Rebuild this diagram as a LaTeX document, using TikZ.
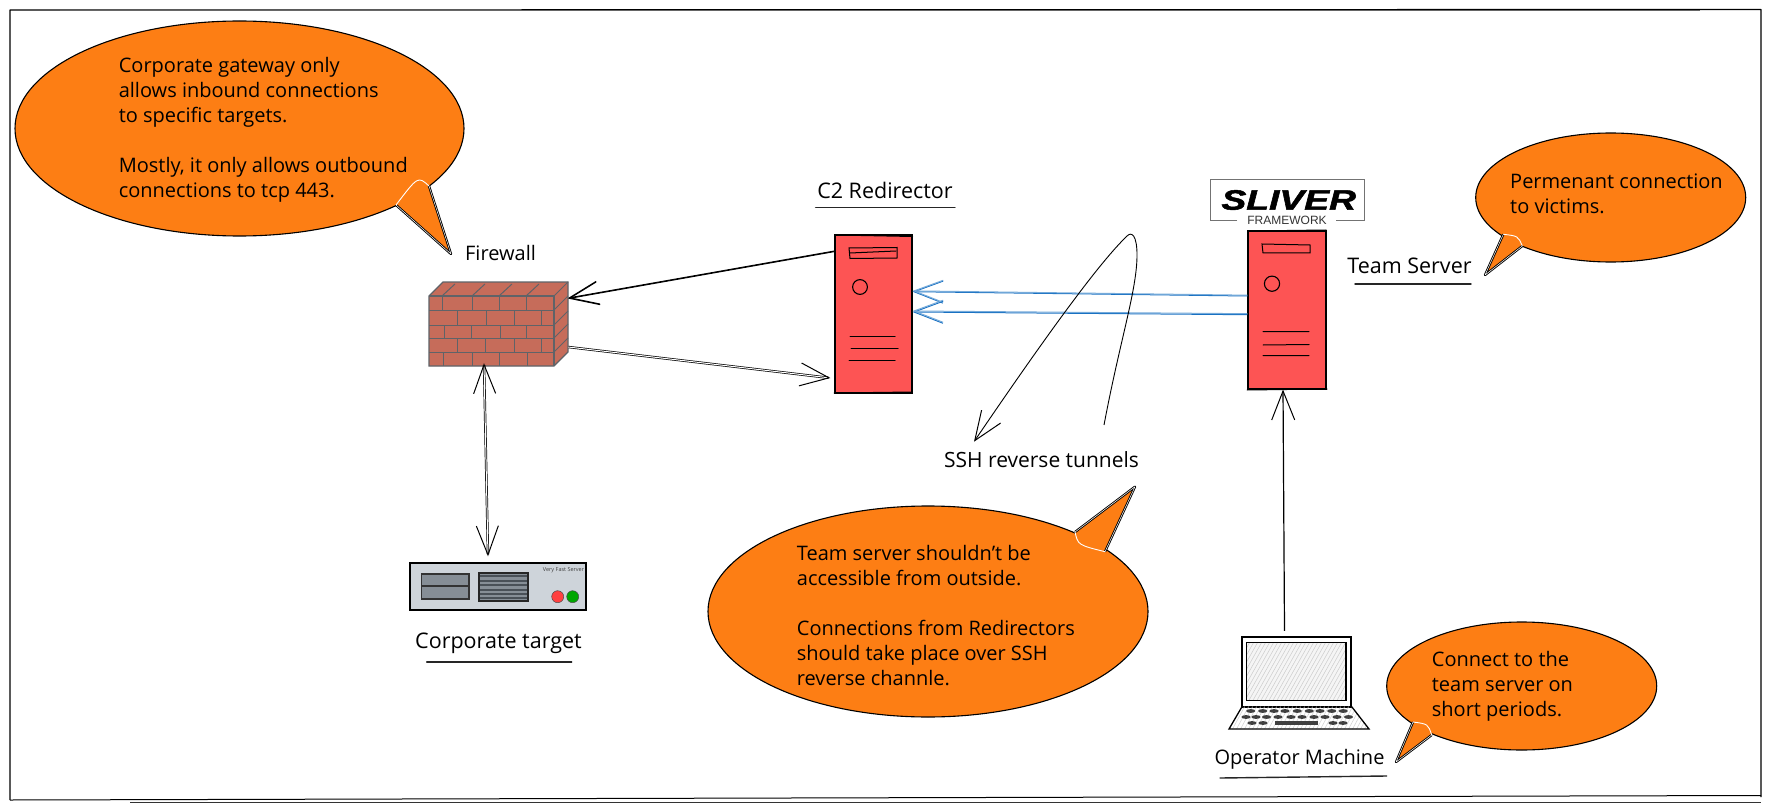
\documentclass[tikz,border=0pt]{standalone}
\usepackage{fontspec}
\setmainfont{Open Sans}
\newfontfamily\logofont{Liberation Sans}
\newfontfamily\logoheavy[UprightFont=* Bold Italic,FakeBold=1.6]{Liberation Sans}
\usetikzlibrary{arrows.meta,shapes.geometric}
\definecolor{bubbleorange}{HTML}{FD7E14}
\definecolor{serverred}{HTML}{FD5454}
\definecolor{brick}{HTML}{C66C5A}
\definecolor{brickline}{HTML}{5F6368}
\definecolor{tunnelblue}{HTML}{1971C2}
\definecolor{chassis}{HTML}{CED4DA}
\definecolor{bay}{HTML}{868E96}
\definecolor{vent}{HTML}{495057}
\tikzset{
  handtext/.style={font=\fontsize{20}{25}\selectfont,inner sep=0pt,align=left,text=black},
  handlabel/.style={font=\fontsize{21.5}{25}\selectfont,inner sep=0pt,align=left,text=black,anchor=center},
  bubble/.style={ellipse,draw=black,line width=1.1pt,fill=bubbleorange,inner sep=0pt},
  serverbox/.style={rectangle,draw=black,line width=1.2pt,fill=serverred,inner sep=0pt},
  ink/.style={draw=black,line width=1pt,line cap=round},
  underl/.style={draw=black!85,line width=1.4pt,line cap=round},
  barb/.style={-{Straight Barb[length=29pt,width=23pt,line width=1pt]},line width=1pt,draw=black},
  barbboth/.style={{Straight Barb[length=29pt,width=22pt,line width=1pt]}-{Straight Barb[length=29pt,width=22pt,line width=1pt]},line width=1pt,draw=black},
  bluebarb/.style={-{Straight Barb[length=29pt,width=22pt,line width=1pt]},line width=1pt,draw=tunnelblue},
  bricks/.style={draw=brickline,line width=1pt},
}
% tail of a speech bubble: base A, control of the base arc, base B, tip
\newcommand{\bubbletail}[4]{%
  \fill[bubbleorange] (#1) .. controls (#2) .. (#3) -- (#4) -- cycle;
  \draw[line width=.9pt,draw=black,double=white,double distance=.5pt,line join=round] (#1) -- (#4) -- (#3);
  \draw[white,line width=.9pt] (#1) .. controls (#2) .. (#3);
}
\begin{document}
\begin{tikzpicture}[x=1pt,y=-1pt]
\useasboundingbox (0,0) rectangle (1771,810);
\fill[white] (0,0) rectangle (1771,810);

% frame
\draw[line width=1.2pt,draw=black,line join=round] (10,800) -- (10,10) -- (1761,9.5) -- (1761,797);
\draw[line width=.7pt,draw=black!60] (60,10.8) -- (1700,10.8);
\draw[line width=1pt,draw=black] (10,800) -- (1761,795.5);
\draw[line width=1pt,draw=black!80] (130,802) -- (1761,802);

% ---------- big bubble
\node[bubble,minimum width=449pt,minimum height=215pt] (gatewayBubble) at (239.5,128.5) {};
\bubbletail{396,205}{418,176}{429,186}{451,254}
\node[handtext,anchor=west] (gatewayText) at (118.6,129.5) {Corporate gateway only\\allows inbound connections\\to specific targets.\\[25pt]Mostly, it only allows outbound\\connections to tcp 443.};
\node[handtext,anchor=center] (firewallLabel) at (500.5,253) {Firewall};

% ---------- firewall
\node[rectangle,inner sep=0pt,minimum width=139pt,minimum height=84pt] (firewall) at (498.5,324) {};
\fill[brick] (429,296) -- (443,282) -- (568,282) -- (568,352) -- (554,366) -- (429,366) -- cycle;
\draw[bricks,line width=1.4pt] (429,296) -- (443,282) -- (568,282) -- (568,352) -- (554,366) -- (429,366) -- cycle;
\draw[bricks,line width=1.4pt] (429,296) -- (554,296) -- (554,366);
\draw[bricks] (554,296) -- (568,282);
\foreach \y in {310,325,338,352} {
  \draw[bricks] (429,\y) -- (554,\y);
  \draw[bricks] (554,\y) -- (568,\y-14);
}
\foreach \x in {442,472,499,526} {
  \draw[bricks] (\x,296) -- (\x,310);
  \draw[bricks] (\x,296) -- (\x+13,284);
}
\foreach \x in {457,486,514,541} \draw[bricks] (\x,310) -- (\x,325);
\foreach \x in {444,471,500,526} \draw[bricks] (\x,325) -- (\x,338);
\foreach \x in {457,485,514,541} \draw[bricks] (\x,338) -- (\x,352);
\foreach \x in {443,472,499,527} \draw[bricks] (\x,352) -- (\x,366);

% ---------- corporate target
\node[rectangle,draw=black,line width=1.4pt,fill=chassis,minimum width=176pt,minimum height=47pt,inner sep=0pt] (target) at (498,586.5) {};
\fill[bay] (421.7,574) rectangle (469,599);
\draw[ink,line width=1.1pt,draw=black!80] (421.7,574) rectangle (469,599) (421.7,586) -- (469,586);
\fill[bay] (479,573) rectangle (527.7,600.7);
\foreach \y in {576,580.5,585,589.5,594,598} \draw[draw=vent,line width=2pt] (480,\y) -- (527,\y);
\draw[ink,line width=1.6pt,draw=black!85] (479,573) rectangle (527.7,600.7);
\node[font=\fontsize{5.5}{6}\selectfont,inner sep=0pt,text=black!75] (targetModel) at (563.5,570) {Very Fast Server};
\node[circle,fill=red!75!white,draw=black!70,line width=.5pt,minimum size=12pt,inner sep=0pt] (ledRed) at (557.7,596.7) {};
\node[circle,fill=green!65!black,draw=black!70,line width=.5pt,minimum size=12pt,inner sep=0pt] (ledGreen) at (572.7,596.7) {};
\node[handlabel] (targetLabel) at (498.5,643) {Corporate target};
\draw[underl] (426.7,662) -- (571.7,662);

% ---------- redirector
\node[handlabel] (redirLabel) at (885,190.7) {C2 Redirector};
\draw[underl] (815.6,207.7) -- (955,207.7);
\node[serverbox,minimum width=77pt,minimum height=158pt] (redir) at (873.5,314) {};
\draw[ink] (835,235) -- (912.5,236.5) (834,393) -- (912,392);
\draw[ink] (849,248) -- (897,247.5) -- (897,258) -- (850,258.5) -- cycle;
\draw[ink] (850,253) -- (896,251);
\draw[ink,line width=1.1pt] (860,287) circle (7.4pt);
\draw[ink] (850,336) -- (895,336) (851,348) -- (898,348) (849,360) -- (895,360);

% ---------- team server
\draw[draw=black!55,line width=.8pt] (1237,220.7) -- (1210,220.7) -- (1210,179) -- (1364,179) -- (1364,220.7) -- (1336.4,220.7);
\node[inner sep=0pt,font=\logoheavy\fontsize{28}{28}\selectfont] (sliverText) at (1288.7,200) {\scalebox{1.33}[1]{SLIVER}};
\node[inner sep=0pt,font=\logofont\fontsize{12}{12}\selectfont,text=black!80] (frameworkText) at (1287,220) {FRAMEWORK};
\node[serverbox,minimum width=78pt,minimum height=158pt] (team) at (1287,310) {};
\draw[ink] (1248,231) -- (1326,230) (1247,390) -- (1327,389);
\draw[ink] (1262,244) -- (1310,245) -- (1310,253) -- (1263,253) -- cycle;
\draw[ink,line width=1.1pt] (1272,283.7) circle (7.6pt);
\draw[ink] (1263,331.7) -- (1309,331.7) (1263,345) -- (1309,344.5) (1263,355.7) -- (1309,355.7);
\node[handlabel] (teamLabel) at (1409.5,266) {Team Server};
\draw[underl] (1355,284) -- (1471,284);

% ---------- permanent bubble
\node[bubble,minimum width=270pt,minimum height=129pt] (permBubble) at (1610.7,197.5) {};
\bubbletail{1503.3,234.3}{1518,236}{1522.3,246}{1485,275}
\node[handtext,anchor=west] (permText) at (1510,194.2) {Permenant connection\\to victims.};

% ---------- mid bubble
\node[bubble,minimum width=440pt,minimum height=211pt] (midBubble) at (928,611.5) {};
\bubbletail{1075,532}{1078,545}{1105,551.7}{1135,486.7}
\node[handtext,anchor=west] (midText) at (796.7,615.5) {Team server shouldn't be\\accessible from outside.\\[25pt]Connections from Redirectors\\should take place over SSH\\reverse channle.};

% ---------- laptop
\node[rectangle,draw=black,line width=1.6pt,fill=white,minimum width=109pt,minimum height=70pt,inner sep=0pt] (laptop) at (1296.5,671.7) {};
\begin{scope}
  \clip (1246.7,642.7) rectangle (1346,700.7);
  \fill[black!4] (1246.7,642.7) rectangle (1346,700.7);
  \foreach \x in {1200,1204,...,1348} \draw[black!20,line width=.5pt] (\x,702) -- (\x+35,640);
\end{scope}
\draw[ink,line width=1.1pt] (1246.7,642.7) rectangle (1346,700.7);
\begin{scope}
  \clip (1242,706.7) -- (1351.7,706.7) -- (1369,729) -- (1229,729) -- cycle;
  \foreach \x in {1200,1204,...,1372} \draw[black!18,line width=.5pt] (\x,730) -- (\x+14,704);
\end{scope}
\draw[ink,line width=1.3pt] (1242,706.7) -- (1229,729) -- (1369,729) -- (1351.7,706.7);
\foreach \x in {1250.7,1262.7,1274,1285,1297.3,1309.3,1320,1331.7,1343.3}
  \fill[black!75] (\x,711) ellipse (4.6pt and 1.9pt);
\foreach \x in {1246,1256,1266.5,1278,1291,1302,1314,1325,1337,1348.5}
  \fill[black!75] (\x,717) ellipse (4.6pt and 1.9pt);
\foreach \x in {1252,1263,1333,1343}
  \fill[black!75] (\x,723) ellipse (4.6pt and 1.9pt);
\fill[black!75] (1275,721.2) rectangle (1318,724.8);
\node[handtext,anchor=center] (operatorLabel) at (1299.5,759) {Operator Machine};
\draw[underl] (1220,778) -- (1386.7,776);

% ---------- operator bubble
\node[bubble,minimum width=270pt,minimum height=128pt] (opBubble) at (1521.7,686) {};
\bubbletail{1413,722}{1428,724}{1431.7,735}{1396,762}
\node[handtext,anchor=west] (opText) at (1431.7,686) {Connect to the\\team server on\\short periods.};

% ---------- ssh label and its curve
\node[handtext,anchor=center,font=\fontsize{21}{25}\selectfont] (sshLabel) at (1041.5,460) {SSH reverse tunnels};
\coordinate (sshCurveStart) at (1104,425);
\coordinate (sshCurveTop) at (1127,236);
\coordinate (sshCurveTip) at (974,441.7);

% ---------- connectors
\draw[barb] ([yshift=63pt]redir.west) -- ([yshift=26pt]firewall.east);
\draw[barb,transform canvas={yshift=-.6pt}] ([yshift=63pt]redir.west) -- ([yshift=26pt]firewall.east);
\draw[barb,double=white,double distance=1pt,line width=.7pt] ([yshift=-23pt]firewall.east) -- ([yshift=-64pt,xshift=-4pt]redir.west);
\draw[barbboth,double=white,double distance=1pt,line width=.7pt] ([xshift=-10pt,yshift=6pt]target.north) -- ([xshift=-14.5pt,yshift=3pt]firewall.south);
\draw[bluebarb] ([yshift=14pt]team.west) -- ([yshift=22.3pt]redir.east);
\draw[bluebarb,draw=tunnelblue!60,transform canvas={yshift=.8pt}] ([yshift=14pt]team.west) -- ([yshift=22.3pt]redir.east);
\draw[bluebarb] ([yshift=-4.7pt]team.west) -- ([yshift=2pt]redir.east);
\draw[bluebarb,draw=tunnelblue!60,transform canvas={yshift=1pt}] ([yshift=-4.7pt]team.west) -- ([yshift=2pt]redir.east);
\draw[barb,line width=1.2pt] ([xshift=-12pt,yshift=5pt]laptop.north) -- ([xshift=-4pt]team.south);
\draw[barb,line width=.9pt] (sshCurveStart) .. controls (1120,340) and (1137,290) .. (1137,255) .. controls (1137,236) and (1132,231) .. (sshCurveTop) .. controls (1100,262) and (1050,330) .. (sshCurveTip);
\end{tikzpicture}
\end{document}
